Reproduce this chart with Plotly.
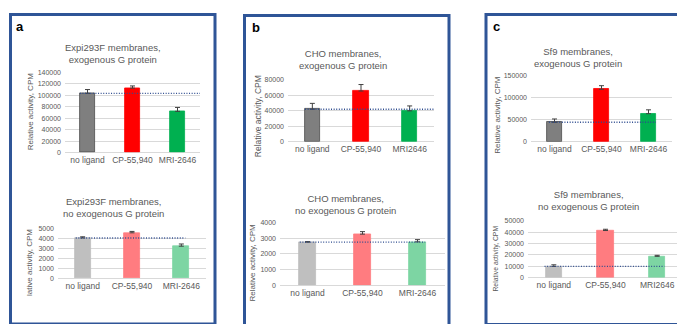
import plotly.graph_objects as go

W, H = 685, 324

# ---------------- data ----------------
cats_a = ["no ligand", "CP-55,940", "MRI-2646"]
cats_b_top = ["no ligand", "CP-55,940", "MRI2646"]
cats_b_bot = ["no ligand", "CP-55,940", "MRI-2646"]
cats_c_top = ["no ligand", "CP-55,940", "MRI-2646"]
cats_c_bot = ["no ligand", "CP-55,940", "MRI2646"]

a_top_vals = [103500, 112500, 72000]
a_top_err = [6500, 3800, 6800]
a_bot_vals = [4020, 4540, 3200]
a_bot_err = [120, 140, 220]
b_top_vals = [42000, 65500, 40000]
b_top_err = [7600, 8400, 6300]
b_bot_vals = [2740, 3250, 2760]
b_bot_err = [35, 160, 140]
c_top_vals = [44500, 119500, 64000]
c_top_err = [7500, 8200, 8800]
c_bot_vals = [10000, 41400, 18800]
c_bot_err = [1400, 1100, 900]

titles = [
    "Expi293F membranes,<br>exogenous G protein",
    "Expi293F membranes,<br>no exogenous G protein",
    "CHO membranes,<br>exogenous G protein",
    "CHO membranes,<br>no exogenous G protein",
    "Sf9 membranes,<br>exogenous G protein",
    "Sf9 membranes,<br>no exogenous G protein",
]
ytitles = [
    "Relative activity, CPM",
    "lative activity, CPM",
    "Relative activity, CPM",
    "Relative activity, CPM",
    "Relative activity, CPM",
    "Relative activity, CPM",
]
panel_labels = ["a", "b", "c"]

# ---------------- styles / layout ----------------
top_colors = ["#7F7F7F", "#FF0000", "#00B050"]
bot_colors = ["#BFBFBF", "#FF7C80", "#7DD5A3"]
FONT = "Arial, Liberation Sans, sans-serif"
TXT = "#595959"

def fx(px):
    return px / W

def fy(py):
    return 1 - py / H

charts = [
    dict(cats=cats_a, vals=a_top_vals, err=a_top_err, colors=top_colors, xd=(57, 192), yb=143.7, yt=61.7, ymax=140000, dtick=20000, dot=(-0.17, 2.5), tx=105, ty=42.5, ytx=22, yty=101.5, yts=8),
    dict(cats=cats_a, vals=a_bot_vals, err=a_bot_err, colors=bot_colors, xd=(50, 198), yb=272, yt=221, ymax=5000, dtick=1000, dot=(-0.14, 2.08), tx=105, ty=200, ytx=22, yty=256.5, yts=8),
    dict(cats=cats_b_top, vals=b_top_vals, err=b_top_err, colors=top_colors, xd=(280, 426), yb=132.7, yt=69.3, ymax=80000, dtick=20000, dot=(-0.15, 2.52), tx=335, ty=49, ytx=249.5, yty=106, yts=8.5),
    dict(cats=cats_b_bot, vals=b_bot_vals, err=b_bot_err, colors=bot_colors, xd=(272, 437), yb=279.3, yt=215, ymax=4000, dtick=1000, dot=(-0.14, 2.14), tx=337, ty=196.5, ytx=244, yty=256, yts=8),
    dict(cats=cats_c_top, vals=c_top_vals, err=c_top_err, colors=top_colors, xd=(523, 664), yb=132.7, yt=65.3, ymax=150000, dtick=50000, dot=(-0.12, 2.16), tx=570, ty=47, ytx=490, yty=105, yts=8),
    dict(cats=cats_c_bot, vals=c_bot_vals, err=c_bot_err, colors=bot_colors, xd=(520, 675), yb=271.7, yt=213.3, ymax=50000, dtick=10000, dot=(-0.18, 2.14), tx=580, ty=193, ytx=488.5, yty=252.5, yts=6.8),
]

fig = go.Figure()
annotations = []
layout_axes = {}

for i, c in enumerate(charts):
    n = "" if i == 0 else str(i + 1)
    xa, ya = "x" + n, "y" + n
    fig.add_trace(go.Bar(
        x=[0, 1, 2], y=c["vals"], width=0.32,
        marker=dict(color=c["colors"],
                    line=dict(color=["#4D4D4D" if (col == "#7F7F7F") else col for col in c["colors"]], width=0.8)),
        error_y=dict(type="data", array=c["err"], arrayminus=[0, 0, 0], symmetric=False,
                     color="#404040", thickness=1, width=2.5),
        xaxis=xa, yaxis=ya, showlegend=False, hoverinfo="skip",
    ))
    base = c["vals"][0]
    fig.add_trace(go.Scatter(
        x=[c["dot"][0], c["dot"][1]], y=[base, base], mode="lines",
        line=dict(color="#2E4C8F", width=1.3, dash="1px,1.6px"),
        xaxis=xa, yaxis=ya, showlegend=False, hoverinfo="skip",
    ))
    layout_axes["xaxis" + n] = dict(
        domain=[fx(c["xd"][0]), fx(c["xd"][1])], anchor=ya, range=[-0.5, 2.5],
        tickvals=[0, 1, 2], ticktext=c["cats"], showgrid=False, zeroline=False,
        showline=False, ticks="", tickfont=dict(size=8.5, color=TXT, family=FONT),
        ticklabelstandoff=1, fixedrange=True,
    )
    layout_axes["yaxis" + n] = dict(
        domain=[fy(c["yb"]), fy(c["yt"])], anchor=xa, range=[0, c["ymax"]],
        dtick=c["dtick"], tick0=0, tickformat="d", showgrid=True, gridcolor="#D9D9D9",
        gridwidth=1, zeroline=True, zerolinecolor="#D9D9D9", zerolinewidth=1,
        showline=False, ticks="", tickfont=dict(size=7, color=TXT, family=FONT),
        ticklabelstandoff=3, fixedrange=True,
    )
    annotations.append(dict(
        text=titles[i], x=fx(c["tx"]), y=fy(c["ty"]), xref="paper", yref="paper",
        xanchor="center", yanchor="middle", showarrow=False,
        font=dict(size=9.5, color=TXT, family=FONT), align="center",
    ))
    annotations.append(dict(
        text=ytitles[i], x=fx(c["ytx"]), y=fy(c["yty"]), xref="paper", yref="paper",
        xanchor="center", yanchor="middle", showarrow=False, textangle=-90,
        font=dict(size=c["yts"], color=TXT, family=FONT),
    ))

label_pos = [(12.5, 15), (248, 16), (488, 15)]
for lab, (px, py) in zip(panel_labels, label_pos):
    annotations.append(dict(
        text="<b>%s</b>" % lab, x=fx(px), y=fy(py), xref="paper", yref="paper",
        xanchor="center", yanchor="middle", showarrow=False,
        font=dict(size=13, color="#000000", family=FONT),
    ))

boxes = [(2.5, 2.5, 207, 319), (236.5, 3.5, 441, 322), (478, 2.5, 683.5, 319.5)]
shapes = []
for x0, y0, x1, y1 in boxes:
    shapes.append(dict(type="rect", xref="paper", yref="paper",
                       x0=fx(x0), y0=fy(y1), x1=fx(x1), y1=fy(y0),
                       line=dict(color="#2F5597", width=3), fillcolor="rgba(0,0,0,0)"))

fig.update_layout(
    width=W, height=H, margin=dict(l=0, r=0, t=0, b=0),
    paper_bgcolor="white", plot_bgcolor="white",
    annotations=annotations, shapes=shapes, showlegend=False,
    bargap=0, hovermode=False, font=dict(family=FONT),
    **layout_axes,
)

fig.write_html("out.html", config={"displayModeBar": False})
